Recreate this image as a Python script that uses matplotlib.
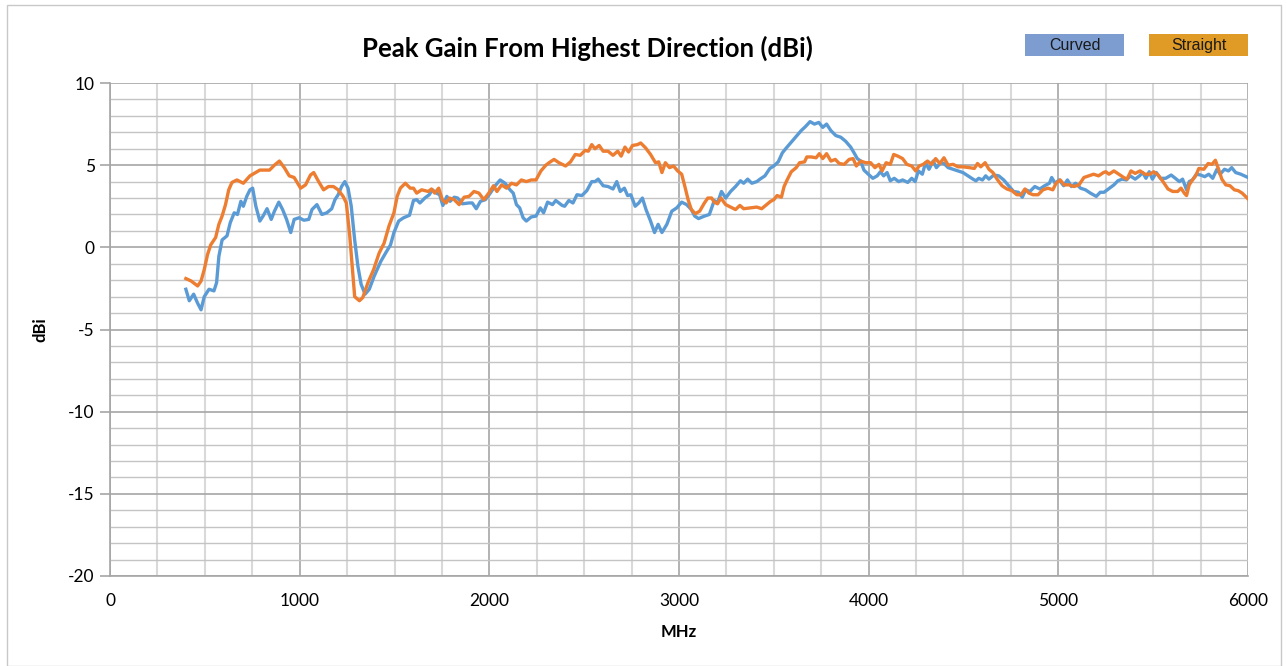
import matplotlib
matplotlib.use("Agg")
import matplotlib.pyplot as plt
from matplotlib.patches import Rectangle
from matplotlib.ticker import MultipleLocator

# ---------------- data ----------------
curved_freq = [400, 418, 441, 462, 480, 497, 522, 548, 562, 574, 591, 617, 634, 655, 672, 690, 703, 721, 738, 752,
               769, 790, 807, 828, 850, 867, 890, 910, 931, 953, 971, 997, 1022, 1048, 1065, 1091, 1117, 1143, 1169, 1186,
               1203, 1221, 1238, 1255, 1272, 1290, 1307, 1324, 1345, 1367, 1393, 1428, 1453, 1479, 1497, 1522, 1548, 1579, 1600, 1617,
               1634, 1660, 1683, 1700, 1721, 1738, 1755, 1776, 1793, 1815, 1833, 1858, 1893, 1910, 1931, 1953, 1979, 2005, 2031, 2057,
               2083, 2109, 2126, 2143, 2160, 2178, 2195, 2221, 2246, 2269, 2286, 2307, 2333, 2350, 2384, 2397, 2419, 2441, 2462, 2488,
               2514, 2540, 2557, 2574, 2600, 2626, 2652, 2672, 2690, 2712, 2729, 2746, 2769, 2788, 2807, 2826, 2850, 2871, 2890, 2910,
               2936, 2962, 2988, 3014, 3040, 3065, 3083, 3103, 3134, 3160, 3186, 3203, 3224, 3246, 3272, 3298, 3324, 3341, 3362, 3384,
               3410, 3427, 3453, 3479, 3500, 3523, 3545, 3566, 3592, 3618, 3644, 3667, 3691, 3714, 3737, 3758, 3778, 3801, 3827, 3853,
               3879, 3905, 3923, 3940, 3958, 3975, 3998, 4022, 4045, 4062, 4079, 4097, 4114, 4135, 4158, 4179, 4206, 4227, 4245, 4262,
               4283, 4300, 4318, 4340, 4357, 4380, 4397, 4419, 4445, 4471, 4497, 4524, 4550, 4566, 4580, 4600, 4617, 4634, 4660, 4686,
               4712, 4738, 4764, 4790, 4810, 4828, 4850, 4876, 4902, 4928, 4953, 4965, 4983, 5005, 5028, 5048, 5069, 5091, 5117, 5143,
               5169, 5200, 5221, 5241, 5264, 5293, 5314, 5336, 5359, 5379, 5405, 5428, 5445, 5462, 5479, 5496, 5517, 5538, 5566, 5595,
               5617, 5638, 5655, 5676, 5690, 5707, 5728, 5750, 5772, 5793, 5814, 5836, 5853, 5876, 5897, 5914, 5935, 5962, 6000]
curved_gain = [-2.55, -3.25, -2.85, -3.4, -3.8, -3.0, -2.55, -2.65, -2.15, -0.55, 0.45, 0.7, 1.5, 2.1, 2.0, 2.8, 2.5, 3.1, 3.5, 3.6,
               2.5, 1.6, 1.9, 2.35, 1.7, 2.2, 2.75, 2.3, 1.7, 0.9, 1.7, 1.8, 1.65, 1.7, 2.3, 2.6, 2.0, 2.1, 2.35, 2.9,
               3.2, 3.7, 4.0, 3.6, 2.5, 0.45, -1.15, -2.25, -2.85, -2.55, -1.75, -0.85, -0.35, 0.15, 0.9, 1.6, 1.8, 1.95, 2.85, 2.9,
               2.7, 3.0, 3.2, 3.5, 3.3, 3.2, 2.55, 3.1, 2.8, 3.05, 3.0, 2.65, 2.7, 2.7, 2.35, 2.8, 2.9, 3.3, 3.75, 4.1,
               3.9, 3.5, 3.3, 2.6, 2.4, 1.8, 1.6, 1.85, 1.9, 2.4, 2.1, 2.75, 2.6, 2.85, 2.55, 2.5, 2.85, 2.7, 3.2, 3.15,
               3.45, 4.0, 4.0, 4.15, 3.75, 3.7, 3.55, 4.0, 3.4, 3.6, 3.15, 3.2, 2.5, 2.7, 3.0, 2.3, 1.6, 0.9, 1.4, 0.9,
               1.4, 2.2, 2.4, 2.75, 2.6, 2.3, 1.9, 1.75, 1.9, 2.0, 2.85, 2.7, 3.4, 3.0, 3.4, 3.7, 4.05, 3.9, 4.15, 3.9,
               4.0, 4.15, 4.35, 4.8, 4.95, 5.2, 5.75, 6.05, 6.4, 6.75, 7.1, 7.35, 7.65, 7.5, 7.6, 7.3, 7.5, 7.1, 6.8, 6.7,
               6.45, 6.1, 5.75, 5.4, 5.25, 4.7, 4.45, 4.2, 4.35, 4.6, 4.35, 4.55, 4.05, 4.2, 4.0, 4.1, 3.95, 4.2, 4.0, 4.65,
               4.45, 5.15, 4.75, 5.25, 4.85, 5.15, 5.1, 4.85, 4.75, 4.65, 4.55, 4.35, 4.15, 4.05, 4.2, 4.1, 4.35, 4.15, 4.4, 4.35,
               4.1, 3.75, 3.4, 3.35, 3.05, 3.5, 3.4, 3.7, 3.55, 3.75, 3.9, 4.25, 3.9, 4.1, 3.75, 4.1, 3.7, 3.9, 3.6, 3.5,
               3.3, 3.1, 3.35, 3.35, 3.55, 3.8, 4.05, 4.15, 4.1, 4.35, 4.15, 4.35, 4.55, 4.2, 4.6, 4.15, 4.55, 4.2, 4.2, 4.4,
               4.2, 4.0, 4.15, 3.5, 4.0, 4.1, 4.45, 4.4, 4.3, 4.45, 4.2, 4.75, 4.45, 4.75, 4.65, 4.85, 4.55, 4.45, 4.25]

straight_freq = [400, 428, 462, 480, 497, 514, 531, 557, 574, 591, 609, 626, 643, 669, 703, 738, 790, 841, 867, 893,
                 919, 945, 971, 1005, 1031, 1057, 1074, 1100, 1126, 1152, 1178, 1203, 1229, 1246, 1264, 1281, 1290, 1315, 1333, 1360,
                 1390, 1419, 1445, 1471, 1497, 1514, 1531, 1557, 1583, 1600, 1617, 1643, 1678, 1695, 1712, 1733, 1752, 1772, 1790, 1815,
                 1841, 1867, 1893, 1919, 1945, 1971, 1997, 2022, 2040, 2065, 2091, 2117, 2143, 2169, 2195, 2221, 2246, 2272, 2298, 2315,
                 2341, 2367, 2384, 2402, 2428, 2453, 2479, 2505, 2522, 2540, 2557, 2579, 2600, 2626, 2652, 2677, 2695, 2715, 2734, 2755,
                 2781, 2798, 2824, 2850, 2876, 2893, 2910, 2928, 2950, 2971, 2993, 3014, 3031, 3048, 3065, 3086, 3109, 3134, 3152, 3172,
                 3186, 3203, 3221, 3246, 3272, 3298, 3321, 3341, 3376, 3410, 3436, 3462, 3483, 3500, 3517, 3540, 3554, 3570, 3592, 3618,
                 3636, 3662, 3674, 3697, 3723, 3740, 3758, 3778, 3801, 3824, 3845, 3871, 3897, 3918, 3935, 3958, 3984, 4010, 4033, 4054,
                 4071, 4092, 4114, 4132, 4154, 4179, 4201, 4227, 4248, 4266, 4288, 4310, 4332, 4353, 4375, 4397, 4419, 4445, 4471, 4497,
                 4531, 4557, 4574, 4591, 4614, 4634, 4655, 4677, 4703, 4729, 4755, 4781, 4803, 4824, 4845, 4867, 4893, 4919, 4945, 4971,
                 4988, 5010, 5031, 5057, 5083, 5109, 5135, 5160, 5186, 5212, 5238, 5250, 5267, 5293, 5319, 5345, 5362, 5383, 5405, 5431,
                 5457, 5483, 5503, 5526, 5552, 5578, 5603, 5629, 5647, 5664, 5676, 5690, 5707, 5724, 5741, 5767, 5790, 5810, 5828, 5845,
                 5862, 5883, 5905, 5928, 5948, 5969, 6000]
straight_gain = [-1.9, -2.05, -2.35, -2.05, -1.35, -0.45, 0.15, 0.6, 1.4, 1.9, 2.6, 3.5, 3.95, 4.1, 3.9, 4.35, 4.7, 4.7, 5.0, 5.25,
                 4.85, 4.35, 4.25, 3.6, 3.8, 4.4, 4.55, 4.0, 3.5, 3.7, 3.7, 3.5, 3.1, 2.7, 0.7, -1.75, -3.0, -3.25, -3.05, -2.15,
                 -1.35, -0.35, 0.25, 1.3, 2.1, 3.1, 3.6, 3.9, 3.6, 3.6, 3.3, 3.5, 3.4, 3.55, 3.3, 3.6, 2.9, 2.7, 3.0, 2.9,
                 2.6, 3.05, 3.1, 3.4, 3.3, 2.9, 3.3, 3.75, 3.4, 3.8, 3.6, 3.9, 3.8, 4.1, 4.0, 4.1, 4.1, 4.65, 5.0, 5.15,
                 5.35, 5.15, 5.05, 4.95, 5.2, 5.65, 5.6, 5.9, 5.85, 6.25, 6.0, 6.2, 5.85, 5.85, 5.6, 5.85, 5.55, 6.1, 5.8, 6.2,
                 6.25, 6.35, 6.05, 5.65, 5.15, 5.2, 4.55, 5.15, 4.85, 4.95, 4.65, 4.45, 3.7, 2.9, 2.3, 2.05, 2.2, 2.7, 3.0, 3.0,
                 2.75, 2.65, 3.0, 2.6, 2.45, 2.3, 2.55, 2.35, 2.4, 2.45, 2.35, 2.6, 2.8, 2.9, 3.15, 3.05, 3.7, 4.1, 4.6, 4.85,
                 5.15, 5.2, 5.5, 5.5, 5.45, 5.7, 5.4, 5.7, 5.25, 5.35, 5.1, 5.05, 5.35, 5.4, 4.95, 5.25, 5.15, 5.15, 4.85, 5.05,
                 4.65, 5.15, 5.05, 5.65, 5.55, 5.4, 5.05, 4.95, 4.65, 4.95, 5.05, 5.25, 5.05, 5.4, 5.1, 5.45, 5.0, 5.05, 4.9, 4.9,
                 4.85, 4.8, 5.1, 4.9, 5.15, 4.75, 4.55, 4.15, 3.75, 3.55, 3.45, 3.2, 3.2, 3.55, 3.3, 3.2, 3.2, 3.5, 3.6, 3.5,
                 3.9, 4.1, 3.8, 3.8, 3.7, 3.8, 4.25, 4.35, 4.45, 4.35, 4.55, 4.6, 4.45, 4.65, 4.45, 4.25, 4.15, 4.65, 4.5, 4.65,
                 4.45, 4.45, 4.6, 4.4, 4.0, 3.55, 3.4, 3.4, 3.6, 3.3, 3.15, 3.8, 4.1, 4.35, 4.8, 4.75, 5.1, 5.05, 5.3, 4.75,
                 4.15, 3.8, 3.75, 3.5, 3.45, 3.3, 2.95]

series_names = ["Curved", "Straight"]
title = "Peak Gain From Highest Direction (dBi)"
x_label = "MHz"
y_label = "dBi"

# ---------------- styling ----------------
plt.rcParams['font.family'] = ['Lato', 'DejaVu Sans']
plt.rcParams['axes.unicode_minus'] = False
W, H = 1287, 666
fig = plt.figure(figsize=(W / 100, H / 100), dpi=100)

# outer frame
fig.patches.append(Rectangle((7 / W, 0), (1281 - 7) / W, 1 - 5 / H, transform=fig.transFigure,
                             fill=False, edgecolor='#C8C8C8', linewidth=1.0))

ax = fig.add_axes([110 / W, 1 - 576 / H, (1248 - 110) / W, (576 - 83) / H])
ax.set_xlim(0, 6000)
ax.set_ylim(-20, 10)
ax.xaxis.set_major_locator(MultipleLocator(1000))
ax.xaxis.set_minor_locator(MultipleLocator(250))
ax.yaxis.set_major_locator(MultipleLocator(5))
ax.yaxis.set_minor_locator(MultipleLocator(1))

ax.grid(which='minor', axis='x', color='#D9D9D9', linewidth=1.5)
ax.grid(which='minor', axis='y', color='#C4C4C4', linewidth=1.0)
ax.grid(which='major', axis='both', color='#A6A6A6', linewidth=1.2)
ax.set_axisbelow(True)

for s in ['top', 'right']:
    ax.spines[s].set_visible(False)
for s in ['left', 'bottom']:
    ax.spines[s].set_color('#A6A6A6')
    ax.spines[s].set_linewidth(1.2)

ax.tick_params(axis='y', which='major', length=7, color='#A6A6A6', width=1.2, labelsize=12.5, pad=4)
ax.tick_params(axis='x', which='major', length=0, labelsize=12.5, pad=12)
ax.tick_params(which='minor', length=0)

ax.plot(curved_freq, curved_gain, color='#5B9BD5', linewidth=2.4, solid_joinstyle='round')
ax.plot(straight_freq, straight_gain, color='#ED7D31', linewidth=2.4, solid_joinstyle='round')

ax.set_xlabel(x_label, fontsize=12, fontweight='bold', labelpad=11)
ax.set_ylabel(y_label, fontsize=12, fontweight='bold', labelpad=14)

fig.text(587 / W, 1 - 48 / H, title, ha='center', va='center', fontsize=18.5, fontweight='bold')

# legend boxes
legend_colors = ['#7D9DD1', '#E09B26']
legend_x = [1025, 1149]
for name, col, lx in zip(series_names, legend_colors, legend_x):
    fig.patches.append(Rectangle((lx / W, 1 - 56 / H), 99 / W, 22 / H, transform=fig.transFigure,
                                 facecolor=col, edgecolor='none'))
    fig.text((lx + 49.5) / W, 1 - 45.5 / H, name, ha='center', va='center', fontsize=11.5,
             family=['Liberation Sans', 'DejaVu Sans'], color='#1A1A1A')

fig.savefig('out.png', dpi=100)
